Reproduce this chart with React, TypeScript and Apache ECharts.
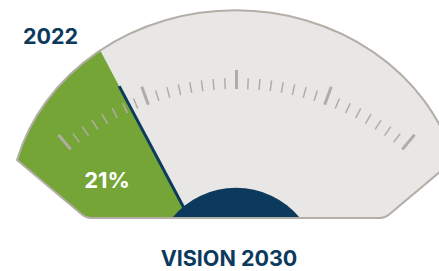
import React, { useEffect, useRef } from "react";
import * as echarts from "echarts";

// ---- data ----
const YEAR_LABELS = ["2022"];
const TARGET_LABELS = ["VISION 2030"];
const SHARE_VALUES = [21]; // percent reached
const SCALE_RANGE = [0, 100];
const MAJOR_SPLITS = [4];
const MINOR_SPLITS = [8];

// ---- styles ----
const NAVY = "#0c3a5d";
const GREEN = "#75a536";
const PANEL = "#e9e7e5";
const EDGE = "#b3aea7";
const TICK = "#b1ada6";
const FONT = "Inter";

const PANEL_D =
  "M 91 218 L 380 218 Q 385 218 388.8 214.8 L 454 160 A 226 201 0 0 0 17 160 L 82.2 214.8 Q 86 218 91 218 Z";
const MASK_D = "M -40 -40 L 500 -40 L 500 320 L -40 320 Z " + PANEL_D;
const HUB_D = "M 172 218 A 83 83 0 0 1 300 218 Z";

echarts.graphic.registerShape("panelShape", echarts.graphic.extendPath(PANEL_D, {}));
echarts.graphic.registerShape("maskShape", echarts.graphic.extendPath(MASK_D, {}));
echarts.graphic.registerShape("hubShape", echarts.graphic.extendPath(HUB_D, {}));

const hidden = {
  axisLine: { show: false, lineStyle: { width: 0 } },
  splitLine: { show: false },
  axisTick: { show: false },
  axisLabel: { show: false },
  pointer: { show: false },
  anchor: { show: false },
  title: { show: false },
  detail: { show: false },
};

export default function App() {
  const ref = useRef<HTMLDivElement>(null);
  useEffect(() => {
    if (!ref.current) return;
    const chart = echarts.init(ref.current, undefined, { renderer: "svg" });
    const value = SHARE_VALUES[0];
    const [min, max] = SCALE_RANGE;
    const txt = (text: string, x: number, y: number, size: number, fill: string) => ({
      type: "text",
      z: 8,
      x,
      y,
      style: {
        text,
        fill,
        font: `bold ${size}px ${FONT}`,
        lineHeight: 18,
        align: "center",
        verticalAlign: "middle",
        textAlign: "center",
        textVerticalAlign: "middle",
      },
    });
    chart.setOption({
      animation: false,
      graphic: {
        elements: [
          { type: "panelShape", z: 1, style: { fill: PANEL } },
          { type: "maskShape", z: 5, style: { fill: "#ffffff" } },
          { type: "hubShape", z: 6, style: { fill: NAVY } },
          {
            type: "panelShape",
            z: 7,
            style: { fill: "none", stroke: EDGE, lineWidth: 2, lineJoin: "round" },
          },
          txt(YEAR_LABELS[0], 50.5, 36, 21.5, NAVY),
          txt(`${value}%`, 107, 180, 22, "#ffffff"),
          txt(TARGET_LABELS[0], 229, 257.5, 21.5, NAVY),
        ],
      },
      series: [
        {
          type: "gauge",
          z: 2,
          center: [236, 306],
          radius: 300,
          startAngle: 160,
          endAngle: -40,
          min,
          max,
          ...hidden,
          progress: {
            show: true,
            overlap: true,
            roundCap: false,
            width: 300,
            itemStyle: { color: GREEN },
          },
          data: [{ value }],
        },
        {
          type: "gauge",
          z: 3,
          center: [236.5, 347],
          radius: 277,
          startAngle: 130,
          endAngle: 50,
          min,
          max,
          splitNumber: MAJOR_SPLITS[0],
          ...hidden,
          splitLine: {
            show: true,
            length: 19,
            distance: 0,
            lineStyle: { color: TICK, width: 3, cap: "butt" },
          },
          axisTick: {
            show: true,
            splitNumber: MINOR_SPLITS[0],
            length: 11,
            distance: 8,
            lineStyle: { color: TICK, width: 1.5, cap: "butt" },
          },
          data: [{ value }],
        },
        {
          type: "gauge",
          z: 4,
          center: [236, 306],
          radius: 300,
          startAngle: 160,
          endAngle: -40,
          min,
          max,
          ...hidden,
          pointer: {
            show: true,
            icon: "rect",
            length: 249,
            width: 3,
            itemStyle: { color: NAVY },
          },
          data: [{ value }],
        },
      ],
    });
    return () => chart.dispose();
  }, []);
  return (
    <div
      ref={ref}
      style={{ position: "fixed", left: 0, top: 0, width: 439, height: 271, background: "#ffffff" }}
    />
  );
}
